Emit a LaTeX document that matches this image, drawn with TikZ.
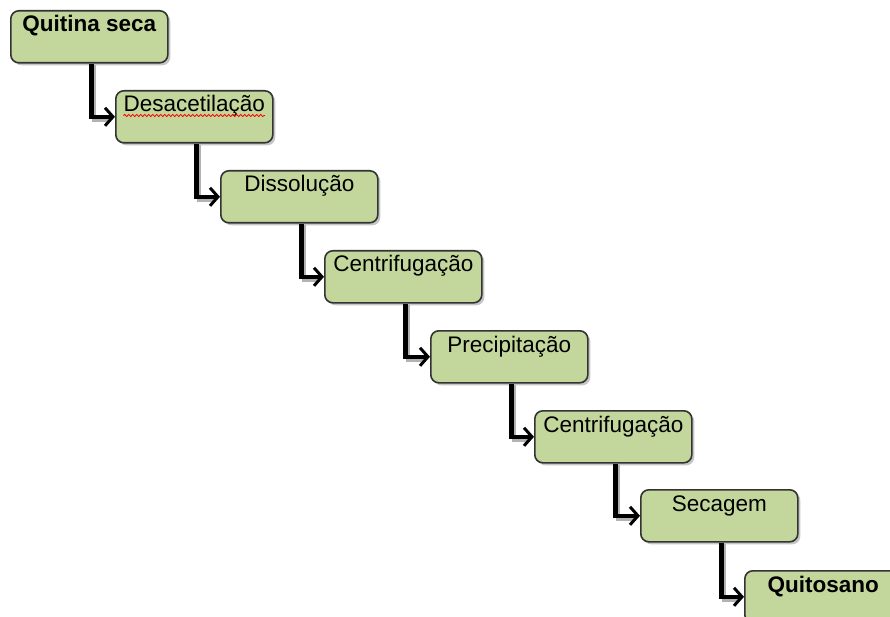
\documentclass[tikz,border=0pt]{standalone}
\usepackage{fontspec}
\setmainfont{Liberation Sans}
\usetikzlibrary{arrows.meta,shadows,decorations.pathmorphing}
\definecolor{boxgreen}{HTML}{C3D69B}
\definecolor{boxedge}{HTML}{333333}
\tikzset{
  stepbox/.style={draw=boxedge, line width=1.6pt, fill=boxgreen, rounded corners=8pt,
    minimum width=157pt, minimum height=52pt, anchor=north west, inner sep=0pt,
    drop shadow={shadow xshift=2.5pt, shadow yshift=-2.5pt, opacity=0.45, fill=gray}},
  steplabel/.style={font=\fontsize{22.5}{26}\selectfont, anchor=base, inner sep=0pt},
  flowline/.style={line width=4.5pt, black, rounded corners=0pt,
    -{Straight Barb[length=8pt,width=18pt,line width=3pt]}},
  flowshadow/.style={line width=4.5pt, gray!60},
}
\begin{document}
\begin{tikzpicture}[x=1pt,y=-1pt]
\useasboundingbox (0,0) rectangle (890,617);
% boxes
\node[stepbox] (b1) at (10,10) {};
\node[stepbox] (b2) at (115,90) {};
\node[stepbox] (b3) at (220,170) {};
\node[stepbox] (b4) at (324,250) {};
\node[stepbox] (b5) at (430,330) {};
\node[stepbox] (b6) at (534,410) {};
\node[stepbox] (b7) at (640,489) {};
\node[stepbox] (b8) at (744,570) {};
% labels
\node[steplabel] (t1) at ([yshift=-22pt]b1.north) {\bfseries Quitina seca};
\node[steplabel] (t2) at ([yshift=-22pt]b2.north) {Desacetilação};
\node[steplabel] (t3) at ([yshift=-22pt]b3.north) {Dissolução};
\node[steplabel] (t4) at ([yshift=-22pt]b4.north) {Centrifugação};
\node[steplabel] (t5) at ([yshift=-22pt]b5.north) {Precipitação};
\node[steplabel] (t6) at ([yshift=-22pt]b6.north) {Centrifugação};
\node[steplabel] (t7) at ([yshift=-22pt]b7.north) {Secagem};
\node[steplabel] (t8) at ([yshift=-22pt]b8.north) {\bfseries Quitosano};
% spell-check squiggle
\coordinate (sq1) at ([yshift=-3.5pt]t2.base west);
\coordinate (sq2) at ([yshift=-3.5pt]t2.base east);
\draw[red, line width=0.8pt, decorate, decoration={snake, segment length=4pt, amplitude=1.1pt}] (sq1) -- (sq2);
% connectors
\foreach \a/\b in {b1/b2,b2/b3,b3/b4,b4/b5,b5/b6,b6/b7,b7/b8}{
  \draw[flowshadow] ([xshift=4.5pt,yshift=-1pt]\a.south) |- ([xshift=-4pt,yshift=-3pt]\b.west);
  \draw[flowline] ([xshift=2pt]\a.south) |- (\b.west);
}
\end{tikzpicture}
\end{document}
